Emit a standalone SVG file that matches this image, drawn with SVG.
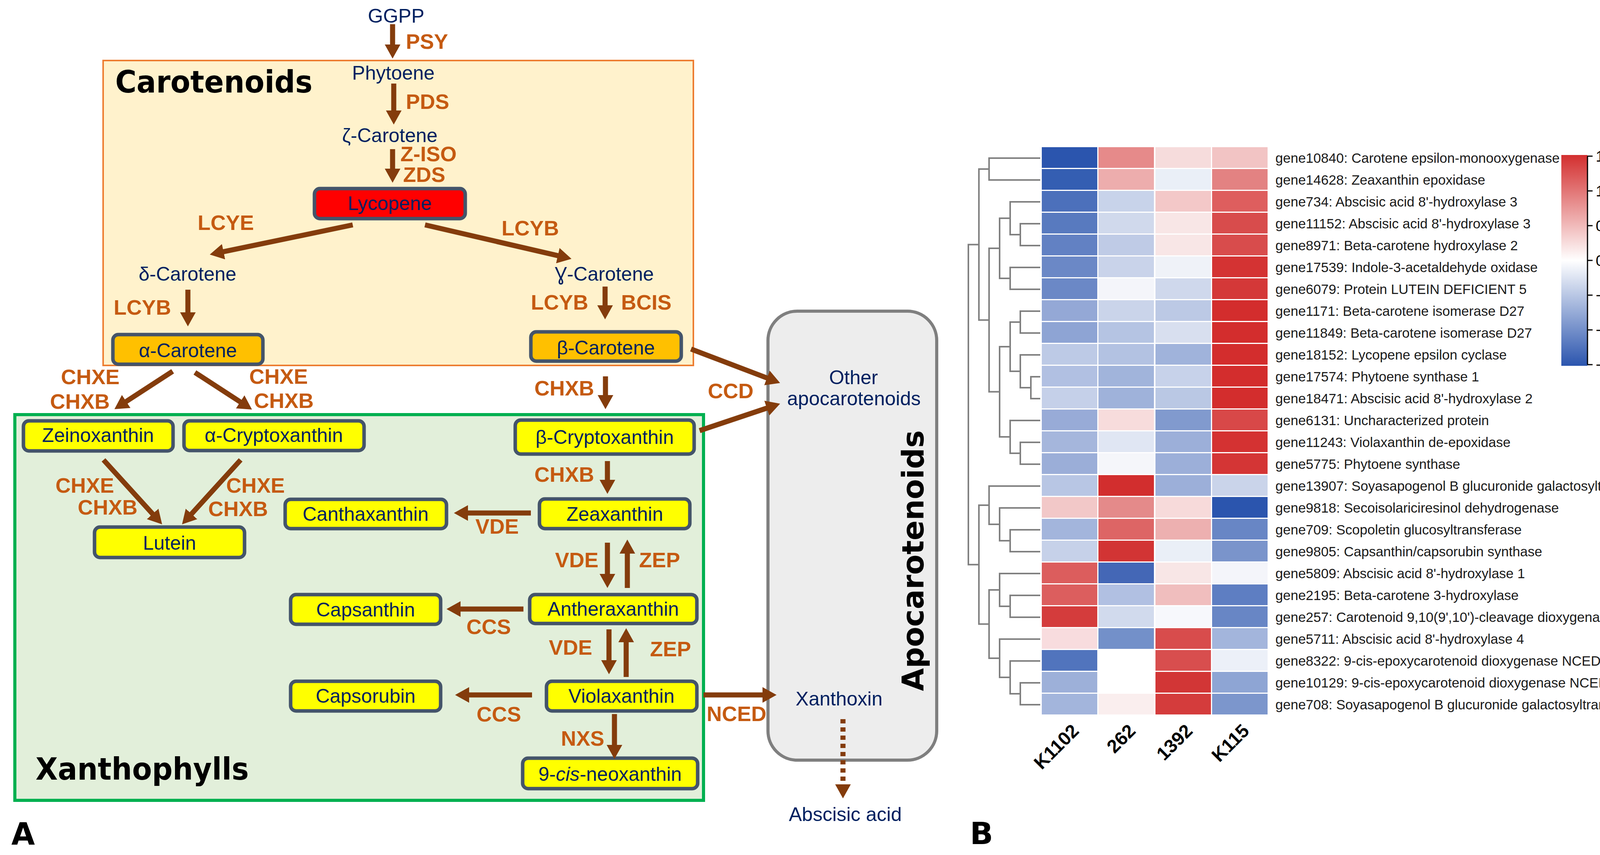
<svg xmlns="http://www.w3.org/2000/svg" width="4307" height="2190" viewBox="0 0 4307 2190" style="overflow:hidden">
<style>
text{font-family:"Liberation Sans",Arial,sans-serif}
.nt{font-size:50px;fill:#002060;text-anchor:middle}
.en{font-size:54px;font-weight:bold;fill:#C55A11}
.box{stroke:#44546A;stroke-width:9}
.yl{fill:#FFFF00}
.or{fill:#FFC000}
.arr{stroke:#843C0C;stroke-width:13;fill:none;marker-end:url(#ah)}
.ttl{font-family:"DejaVu Sans","Liberation Sans",Arial,sans-serif;font-weight:bold;fill:#000}
.gl{font-size:35px;fill:#1a1a1a}
.dg{stroke:#808080;stroke-width:4;fill:none}
.cl{font-size:48px;font-weight:bold;fill:#000;text-anchor:end}
.cb{font-size:39px;fill:#000}
</style>
<defs>
<marker id="ah" markerUnits="userSpaceOnUse" viewBox="0 0 36 40" markerWidth="36" markerHeight="40" refX="6" refY="20" orient="auto">
<path d="M0,0 L36,20 L0,40 z" fill="#843C0C"/>
</marker>
<linearGradient id="cbg" x1="0" y1="0" x2="0" y2="1">
<stop offset="0" stop-color="#D32F2F"/>
<stop offset="0.5" stop-color="#FFFFFF"/>
<stop offset="1" stop-color="#2B55AE"/>
</linearGradient>
</defs>
<rect width="4307" height="2190" fill="#FFFFFF"/>

<g id="carotenoids-region">
<rect x="264" y="155" width="1511" height="781" fill="#FFF2CC" stroke="#ED7D31" stroke-width="4"/>
<text class="ttl" x="295" y="237" font-size="78" textLength="505" lengthAdjust="spacingAndGlyphs">Carotenoids</text>
</g>
<g id="xanthophylls-region">
<rect x="38" y="1062" width="1763" height="988" fill="#E2EFDA" stroke="#00B050" stroke-width="8"/>
<text class="ttl" x="91" y="1997" font-size="79" textLength="546" lengthAdjust="spacingAndGlyphs">Xanthophylls</text>
</g>
<g id="apocarotenoids-region">
<rect x="1966" y="797" width="432" height="1150" rx="75" ry="75" fill="#EDEDED" stroke="#7F7F7F" stroke-width="8"/>
<text class="ttl" transform="translate(2364,1436) rotate(-90)" font-size="76" text-anchor="middle" textLength="668" lengthAdjust="spacingAndGlyphs">Apocarotenoids</text>
</g>

<g id="ggpp"><text class="nt" x="1014" y="58">GGPP</text></g>
<g id="phytoene"><text class="nt" x="1007" y="204">Phytoene</text></g>
<g id="zeta-carotene"><text class="nt" x="998" y="364">ζ-Carotene</text></g>
<g id="lycopene"><rect class="box" x="805" y="483" width="386" height="77" rx="14" fill="#FF0000"/><text class="nt" x="998" y="538">Lycopene</text></g>
<g id="delta-carotene"><text class="nt" x="480" y="719">δ-Carotene</text></g>
<g id="gamma-carotene"><text class="nt" x="1547" y="719">Ɣ-Carotene</text></g>
<g id="alpha-carotene"><rect class="box or" x="289" y="857" width="384" height="76" rx="14"/><text class="nt" x="481" y="915">α-Carotene</text></g>
<g id="beta-carotene"><rect class="box or" x="1359" y="850" width="385" height="75" rx="14"/><text class="nt" x="1551" y="908">β-Carotene</text></g>
<g id="zeinoxanthin"><rect class="box yl" x="60" y="1078" width="383" height="77" rx="14"/><text class="nt" x="251" y="1132">Zeinoxanthin</text></g>
<g id="alpha-cryptoxanthin"><rect class="box yl" x="471" y="1078" width="461" height="76" rx="14"/><text class="nt" x="701" y="1132">α-Cryptoxanthin</text></g>
<g id="lutein"><rect class="box yl" x="242" y="1350" width="384" height="78" rx="14"/><text class="nt" x="434" y="1408">Lutein</text></g>
<g id="beta-cryptoxanthin"><rect class="box yl" x="1319" y="1076" width="458" height="87" rx="14"/><text class="nt" x="1548" y="1137">β-Cryptoxanthin</text></g>
<g id="zeaxanthin"><rect class="box yl" x="1381" y="1278" width="385" height="76" rx="14"/><text class="nt" x="1574" y="1334">Zeaxanthin</text></g>
<g id="canthaxanthin"><rect class="box yl" x="730" y="1279" width="413" height="75" rx="14"/><text class="nt" x="936" y="1334">Canthaxanthin</text></g>
<g id="antheraxanthin"><rect class="box yl" x="1356" y="1523" width="428" height="74" rx="14"/><text class="nt" x="1570" y="1577">Antheraxanthin</text></g>
<g id="capsanthin"><rect class="box yl" x="744" y="1523" width="384" height="76" rx="14"/><text class="nt" x="936" y="1579">Capsanthin</text></g>
<g id="violaxanthin"><rect class="box yl" x="1399" y="1745" width="385" height="76" rx="14"/><text class="nt" x="1591" y="1800">Violaxanthin</text></g>
<g id="capsorubin"><rect class="box yl" x="744" y="1745" width="384" height="76" rx="14"/><text class="nt" x="936" y="1800">Capsorubin</text></g>
<g id="neoxanthin"><rect class="box yl" x="1338" y="1942" width="448" height="78" rx="14"/><text class="nt" x="1562" y="2000">9-<tspan font-style="italic">cis</tspan>-neoxanthin</text></g>
<g id="other-apocarotenoids"><text class="nt" x="2185" y="984">Other</text><text class="nt" x="2186" y="1038">apocarotenoids</text></g>
<g id="xanthoxin"><text class="nt" x="2148" y="1807">Xanthoxin</text></g>
<g id="abscisic-acid"><text class="nt" x="2164" y="2103">Abscisic acid</text></g>

<g id="connectors">
<line class="arr" x1="1005" y1="62" x2="1005" y2="120"/>
<line class="arr" x1="1008" y1="214" x2="1008" y2="289"/>
<line class="arr" x1="1005" y1="382" x2="1005" y2="438"/>
<line class="arr" x1="903" y1="576" x2="566.4" y2="645.9"/>
<line class="arr" x1="1088" y1="576" x2="1433.8" y2="656.2"/>
<line class="arr" x1="481" y1="742" x2="481" y2="806"/>
<line class="arr" x1="442" y1="951" x2="318.1" y2="1031.6"/>
<line class="arr" x1="499" y1="954" x2="619.9" y2="1032.6"/>
<line class="arr" x1="1549" y1="734" x2="1549" y2="788"/>
<line class="arr" x1="1550" y1="964" x2="1550" y2="1018"/>
<line class="arr" x1="1555" y1="1181" x2="1555" y2="1235"/>
<line class="arr" x1="1359" y1="1314" x2="1192" y2="1314"/>
<line class="arr" x1="1555" y1="1390" x2="1555" y2="1476"/>
<line class="arr" x1="1606" y1="1506" x2="1606" y2="1412"/>
<line class="arr" x1="1340" y1="1560" x2="1173" y2="1560"/>
<line class="arr" x1="1559" y1="1612" x2="1559" y2="1697"/>
<line class="arr" x1="1603" y1="1734" x2="1603" y2="1639"/>
<line class="arr" x1="1362" y1="1780" x2="1195" y2="1780"/>
<line class="arr" x1="1573" y1="1829" x2="1573" y2="1914"/>
<line class="arr" x1="1801" y1="1780" x2="1958" y2="1780"/>
<line class="arr" x1="265" y1="1178" x2="394.8" y2="1320.8"/>
<line class="arr" x1="616" y1="1178" x2="486.2" y2="1320.8"/>
<line class="arr" x1="1769" y1="894" x2="1969" y2="970.3"/>
<line class="arr" x1="1791" y1="1103" x2="1968.6" y2="1043.5"/>
<line class="arr" x1="2158" y1="1842" x2="2158" y2="2015" stroke-width="9" stroke-dasharray="11 10"/>
<text class="en" x="1039" y="125">PSY</text>
<text class="en" x="1039" y="279">PDS</text>
<text class="en" x="1025" y="413">Z-ISO</text>
<text class="en" x="1032" y="466">ZDS</text>
<text class="en" x="506" y="589">LCYE</text>
<text class="en" x="1284" y="603">LCYB</text>
<text class="en" x="291" y="806">LCYB</text>
<text class="en" x="156" y="984">CHXE</text>
<text class="en" x="128" y="1047">CHXB</text>
<text class="en" x="638" y="983">CHXE</text>
<text class="en" x="650" y="1045">CHXB</text>
<text class="en" x="142" y="1262">CHXE</text>
<text class="en" x="199" y="1318">CHXB</text>
<text class="en" x="579" y="1262">CHXE</text>
<text class="en" x="533" y="1322">CHXB</text>
<text class="en" x="1359" y="793">LCYB</text>
<text class="en" x="1590" y="793">BCIS</text>
<text class="en" x="1368" y="1013">CHXB</text>
<text class="en" x="1368" y="1234">CHXB</text>
<text class="en" x="1217" y="1367">VDE</text>
<text class="en" x="1421" y="1453">VDE</text>
<text class="en" x="1636" y="1453">ZEP</text>
<text class="en" x="1194" y="1624">CCS</text>
<text class="en" x="1405" y="1677">VDE</text>
<text class="en" x="1664" y="1681">ZEP</text>
<text class="en" x="1220" y="1848">CCS</text>
<text class="en" x="1436" y="1910">NXS</text>
<text class="en" x="1809" y="1847">NCED</text>
<text class="en" x="1812" y="1020">CCD</text>
</g>

<text class="ttl" x="29" y="2163" font-size="78">A</text>
<text class="ttl" x="2483" y="2162" font-size="78">B</text>

<g id="dendrogram">
<path class="dg" d="M2663 405 H2532 V461 H2663"/>
<path class="dg" d="M2663 573 H2612 V629 H2663"/>
<path class="dg" d="M2663 517 H2586 V601 H2612"/>
<path class="dg" d="M2663 685 H2586 V741 H2663"/>
<path class="dg" d="M2586 559 H2559 V713 H2586"/>
<path class="dg" d="M2663 797 H2612 V853 H2663"/>
<path class="dg" d="M2663 965 H2639 V1021 H2663"/>
<path class="dg" d="M2663 909 H2612 V993 H2639"/>
<path class="dg" d="M2612 825 H2586 V951 H2612"/>
<path class="dg" d="M2663 1133 H2612 V1189 H2663"/>
<path class="dg" d="M2663 1077 H2586 V1161 H2612"/>
<path class="dg" d="M2586 888 H2559 V1119 H2586"/>
<path class="dg" d="M2559 636 H2532 V1003.5 H2559"/>
<path class="dg" d="M2532 433 H2506 V819.75 H2532"/>
<path class="dg" d="M2663 1357 H2586 V1413 H2663"/>
<path class="dg" d="M2663 1301 H2559 V1385 H2586"/>
<path class="dg" d="M2663 1245 H2532 V1343 H2559"/>
<path class="dg" d="M2663 1525 H2586 V1581 H2663"/>
<path class="dg" d="M2663 1469 H2559 V1553 H2586"/>
<path class="dg" d="M2663 1749 H2612 V1805 H2663"/>
<path class="dg" d="M2663 1693 H2586 V1777 H2612"/>
<path class="dg" d="M2663 1637 H2559 V1735 H2586"/>
<path class="dg" d="M2559 1511 H2532 V1686 H2559"/>
<path class="dg" d="M2532 1294 H2506 V1598.5 H2532"/>
<path class="dg" d="M2506 626.4 H2479 V1446.25 H2506"/>
</g>

<g id="heatmap-cells">
<g transform="translate(0,377)"><rect x="2667" width="142" height="53" fill="#2B55AE"/><rect x="2812" width="142" height="53" fill="#E68A8A"/><rect x="2958" width="142" height="53" fill="#F6DCDC"/><rect x="3103" width="142" height="53" fill="#F2C4C4"/></g>
<g transform="translate(0,433)"><rect x="2667" width="142" height="53" fill="#345EB2"/><rect x="2812" width="142" height="53" fill="#EDADAD"/><rect x="2958" width="142" height="53" fill="#EAEFF7"/><rect x="3103" width="142" height="53" fill="#E38282"/></g>
<g transform="translate(0,489)"><rect x="2667" width="142" height="53" fill="#4C70BB"/><rect x="2812" width="142" height="53" fill="#C8D3EA"/><rect x="2958" width="142" height="53" fill="#F3C8C8"/><rect x="3103" width="142" height="53" fill="#DE5E5E"/></g>
<g transform="translate(0,545)"><rect x="2667" width="142" height="53" fill="#587ABF"/><rect x="2812" width="142" height="53" fill="#D0D9EC"/><rect x="2958" width="142" height="53" fill="#F8E6E6"/><rect x="3103" width="142" height="53" fill="#D84C4C"/></g>
<g transform="translate(0,601)"><rect x="2667" width="142" height="53" fill="#6281C3"/><rect x="2812" width="142" height="53" fill="#BFCBE6"/><rect x="2958" width="142" height="53" fill="#F8E6E6"/><rect x="3103" width="142" height="53" fill="#D84C4C"/></g>
<g transform="translate(0,657)"><rect x="2667" width="142" height="53" fill="#6B88C6"/><rect x="2812" width="142" height="53" fill="#C9D3EA"/><rect x="2958" width="142" height="53" fill="#EFF2F8"/><rect x="3103" width="142" height="53" fill="#D43333"/></g>
<g transform="translate(0,713)"><rect x="2667" width="142" height="53" fill="#6B88C6"/><rect x="2812" width="142" height="53" fill="#F4F5FA"/><rect x="2958" width="142" height="53" fill="#CFD8EC"/><rect x="3103" width="142" height="53" fill="#D43838"/></g>
<g transform="translate(0,769)"><rect x="2667" width="142" height="53" fill="#94A8D6"/><rect x="2812" width="142" height="53" fill="#CAD4EA"/><rect x="2958" width="142" height="53" fill="#BCC9E5"/><rect x="3103" width="142" height="53" fill="#D32D2D"/></g>
<g transform="translate(0,825)"><rect x="2667" width="142" height="53" fill="#8EA4D4"/><rect x="2812" width="142" height="53" fill="#B5C4E3"/><rect x="2958" width="142" height="53" fill="#D8DFEF"/><rect x="3103" width="142" height="53" fill="#D32D2D"/></g>
<g transform="translate(0,881)"><rect x="2667" width="142" height="53" fill="#BDCAE6"/><rect x="2812" width="142" height="53" fill="#B3C2E2"/><rect x="2958" width="142" height="53" fill="#A0B3DB"/><rect x="3103" width="142" height="53" fill="#D32D2D"/></g>
<g transform="translate(0,937)"><rect x="2667" width="142" height="53" fill="#B1C0E2"/><rect x="2812" width="142" height="53" fill="#A1B4DB"/><rect x="2958" width="142" height="53" fill="#C7D2EA"/><rect x="3103" width="142" height="53" fill="#D32D2D"/></g>
<g transform="translate(0,993)"><rect x="2667" width="142" height="53" fill="#C5D0E9"/><rect x="2812" width="142" height="53" fill="#9FB2DA"/><rect x="2958" width="142" height="53" fill="#BAC8E4"/><rect x="3103" width="142" height="53" fill="#D32D2D"/></g>
<g transform="translate(0,1049)"><rect x="2667" width="142" height="53" fill="#98ABD7"/><rect x="2812" width="142" height="53" fill="#F7DCDC"/><rect x="2958" width="142" height="53" fill="#819ACE"/><rect x="3103" width="142" height="53" fill="#D84848"/></g>
<g transform="translate(0,1105)"><rect x="2667" width="142" height="53" fill="#A5B6DC"/><rect x="2812" width="142" height="53" fill="#E0E6F3"/><rect x="2958" width="142" height="53" fill="#9CAFD9"/><rect x="3103" width="142" height="53" fill="#D43232"/></g>
<g transform="translate(0,1161)"><rect x="2667" width="142" height="53" fill="#9BAED8"/><rect x="2812" width="142" height="53" fill="#F5F6FA"/><rect x="2958" width="142" height="53" fill="#9CAFD9"/><rect x="3103" width="142" height="53" fill="#D43535"/></g>
<g transform="translate(0,1217)"><rect x="2667" width="142" height="53" fill="#B8C6E4"/><rect x="2812" width="142" height="53" fill="#D22E2E"/><rect x="2958" width="142" height="53" fill="#9CAFD9"/><rect x="3103" width="142" height="53" fill="#CAD4EA"/></g>
<g transform="translate(0,1273)"><rect x="2667" width="142" height="53" fill="#F2C8C8"/><rect x="2812" width="142" height="53" fill="#E48A8A"/><rect x="2958" width="142" height="53" fill="#F7DADA"/><rect x="3103" width="142" height="53" fill="#2B55AE"/></g>
<g transform="translate(0,1329)"><rect x="2667" width="142" height="53" fill="#A3B5DC"/><rect x="2812" width="142" height="53" fill="#DD6565"/><rect x="2958" width="142" height="53" fill="#EDB0B0"/><rect x="3103" width="142" height="53" fill="#6886C5"/></g>
<g transform="translate(0,1385)"><rect x="2667" width="142" height="53" fill="#C6D1E9"/><rect x="2812" width="142" height="53" fill="#D23434"/><rect x="2958" width="142" height="53" fill="#EAEFF7"/><rect x="3103" width="142" height="53" fill="#7A94CB"/></g>
<g transform="translate(0,1441)"><rect x="2667" width="142" height="53" fill="#DC5D5D"/><rect x="2812" width="142" height="53" fill="#4467B6"/><rect x="2958" width="142" height="53" fill="#F8E6E6"/><rect x="3103" width="142" height="53" fill="#F4F5FA"/></g>
<g transform="translate(0,1497)"><rect x="2667" width="142" height="53" fill="#DC5E5E"/><rect x="2812" width="142" height="53" fill="#B1C0E2"/><rect x="2958" width="142" height="53" fill="#F0BEBE"/><rect x="3103" width="142" height="53" fill="#5E7EC2"/></g>
<g transform="translate(0,1553)"><rect x="2667" width="142" height="53" fill="#D43C3C"/><rect x="2812" width="142" height="53" fill="#D1DAED"/><rect x="2958" width="142" height="53" fill="#F7F8FC"/><rect x="3103" width="142" height="53" fill="#6886C5"/></g>
<g transform="translate(0,1609)"><rect x="2667" width="142" height="53" fill="#F8DCDE"/><rect x="2812" width="142" height="53" fill="#7390C9"/><rect x="2958" width="142" height="53" fill="#D84C4C"/><rect x="3103" width="142" height="53" fill="#A3B5DC"/></g>
<g transform="translate(0,1665)"><rect x="2667" width="142" height="53" fill="#5174BD"/><rect x="2812" width="142" height="53" fill="#FFFFFF"/><rect x="2958" width="142" height="53" fill="#D84E4E"/><rect x="3103" width="142" height="53" fill="#ECF0F8"/></g>
<g transform="translate(0,1721)"><rect x="2667" width="142" height="53" fill="#9DB0D9"/><rect x="2812" width="142" height="53" fill="#FFFFFF"/><rect x="2958" width="142" height="53" fill="#D23636"/><rect x="3103" width="142" height="53" fill="#8EA5D4"/></g>
<g transform="translate(0,1777)"><rect x="2667" width="142" height="53" fill="#A3B5DC"/><rect x="2812" width="142" height="53" fill="#FAEEEE"/><rect x="2958" width="142" height="53" fill="#D43C3C"/><rect x="3103" width="142" height="53" fill="#7C96CC"/></g>
</g>

<g id="gene-labels">
<text class="gl" x="3265" y="417">gene10840: Carotene epsilon-monooxygenase</text>
<text class="gl" x="3265" y="473">gene14628: Zeaxanthin epoxidase</text>
<text class="gl" x="3265" y="529">gene734: Abscisic acid 8'-hydroxylase 3</text>
<text class="gl" x="3265" y="585">gene11152: Abscisic acid 8'-hydroxylase 3</text>
<text class="gl" x="3265" y="641">gene8971: Beta-carotene hydroxylase 2</text>
<text class="gl" x="3265" y="697">gene17539: Indole-3-acetaldehyde oxidase</text>
<text class="gl" x="3265" y="753">gene6079: Protein LUTEIN DEFICIENT 5</text>
<text class="gl" x="3265" y="809">gene1171: Beta-carotene isomerase D27</text>
<text class="gl" x="3265" y="865">gene11849: Beta-carotene isomerase D27</text>
<text class="gl" x="3265" y="921">gene18152: Lycopene epsilon cyclase</text>
<text class="gl" x="3265" y="977">gene17574: Phytoene synthase 1</text>
<text class="gl" x="3265" y="1033">gene18471: Abscisic acid 8'-hydroxylase 2</text>
<text class="gl" x="3265" y="1089">gene6131: Uncharacterized protein</text>
<text class="gl" x="3265" y="1145">gene11243: Violaxanthin de-epoxidase</text>
<text class="gl" x="3265" y="1201">gene5775: Phytoene synthase</text>
<text class="gl" x="3265" y="1257">gene13907: Soyasapogenol B glucuronide galactosyltransferase</text>
<text class="gl" x="3265" y="1313">gene9818: Secoisolariciresinol dehydrogenase</text>
<text class="gl" x="3265" y="1369">gene709: Scopoletin glucosyltransferase</text>
<text class="gl" x="3265" y="1425">gene9805: Capsanthin/capsorubin synthase</text>
<text class="gl" x="3265" y="1481">gene5809: Abscisic acid 8'-hydroxylase 1</text>
<text class="gl" x="3265" y="1537">gene2195: Beta-carotene 3-hydroxylase</text>
<text class="gl" x="3265" y="1593">gene257: Carotenoid 9,10(9',10')-cleavage dioxygenase 1</text>
<text class="gl" x="3265" y="1649">gene5711: Abscisic acid 8'-hydroxylase 4</text>
<text class="gl" x="3265" y="1705">gene8322: 9-cis-epoxycarotenoid dioxygenase NCED1</text>
<text class="gl" x="3265" y="1761">gene10129: 9-cis-epoxycarotenoid dioxygenase NCED1</text>
<text class="gl" x="3265" y="1817">gene708: Soyasapogenol B glucuronide galactosyltransferase</text>
</g>

<g id="column-labels">
<text class="cl" transform="translate(2765,1875) rotate(-45)">K1102</text>
<text class="cl" transform="translate(2910,1875) rotate(-45)">262</text>
<text class="cl" transform="translate(3056,1875) rotate(-45)">1392</text>
<text class="cl" transform="translate(3201,1875) rotate(-45)">K115</text>
</g>

<g id="colorbar">
<rect x="3997" y="397" width="67" height="540" fill="url(#cbg)"/>
<path d="M4064 400 V934 M4064 400 H4077 M4064 489 H4077 M4064 578 H4077 M4064 667 H4077 M4064 756 H4077 M4064 845 H4077 M4064 934 H4077" stroke="#000" stroke-width="3" fill="none"/>
<text class="cb" x="4085" y="414">1.50</text>
<text class="cb" x="4085" y="503">1.00</text>
<text class="cb" x="4085" y="592">0.50</text>
<text class="cb" x="4085" y="681">0.00</text>
<text class="cb" x="4085" y="770">−0.50</text>
<text class="cb" x="4085" y="859">−1.00</text>
<text class="cb" x="4085" y="948">−1.50</text>
</g>
</svg>
